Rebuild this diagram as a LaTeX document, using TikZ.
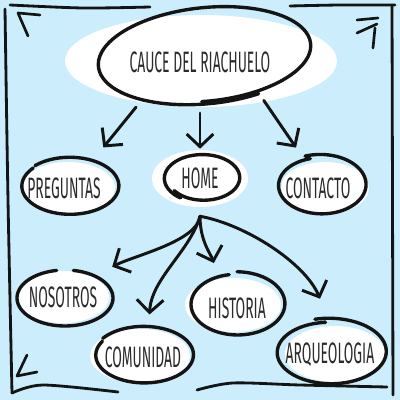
\documentclass[tikz,border=0pt]{standalone}
\usepackage{fontspec}
\setmainfont{Fira Sans}[FakeStretch=0.47]
\usetikzlibrary{arrows.meta,shapes.geometric,positioning}
\definecolor{skyBlue}{HTML}{CCEEFC}
\definecolor{inkBlack}{HTML}{141414}
\definecolor{textGray}{HTML}{2B2B2B}

\tikzset{
  topic/.style={ellipse,inner sep=0pt,text=textGray,font=\fontsize{21}{21}\selectfont},
  ring/.style={draw=inkBlack,line width=2.4pt,line cap=round,line join=round},
  link/.style={draw=inkBlack,line width=2.1pt,line cap=round,-{Straight Barb[length=9pt,width=19pt]}},
  frameline/.style={draw=inkBlack,line width=2pt,line cap=round},
  cornermark/.style={draw=inkBlack,line width=1.9pt,line cap=round,line join=round}
}

\newcommand{\sketchring}[9]{%
  \begin{scope}[shift={(#1)},shift={#2},rotate=#9]
    \draw[ring] plot[domain=#5:#6,samples=90,smooth] ({#3*(#7+(#8-#7)*(\x-(#5))/(#6-(#5)))*cos(\x)},{#4*(#7+(#8-#7)*(\x-(#5))/(#6-(#5)))*sin(\x)});
  \end{scope}}

\begin{document}
\begin{tikzpicture}[x=0.025cm,y=0.025cm]
  \fill[skyBlue] (0,0) rectangle (400,400);
  \useasboundingbox (0,0) rectangle (400,400);

  \fill[white] (201,339) ellipse [x radius=136,y radius=46];
  \fill[white] (68,212) ellipse [x radius=47,y radius=26];
  \fill[white] (200,221.5) ellipse [x radius=48,y radius=28.5];
  \fill[white] (325,212) ellipse [x radius=44,y radius=26];
  \fill[white] (63,103) ellipse [x radius=46,y radius=26];
  \fill[white] (140,44) ellipse [x radius=50,y radius=27];
  \fill[white] (233,95) ellipse [x radius=48,y radius=27];
  \fill[white] (335,46) ellipse [x radius=50,y radius=28];

  \node[topic,minimum width=5.4cm,minimum height=2cm] (cauce) at (200,338) {CAUCE DEL RIACHUELO};
  \node[topic,minimum width=2.5cm,minimum height=1.4cm] (preg) at (64,212) {PREGUNTAS};
  \node[topic,minimum width=1.85cm,minimum height=1.15cm] (home) at (200,222) {HOME};
  \node[topic,minimum width=2.2cm,minimum height=1.5cm] (cont) at (318,212) {CONTACTO};
  \node[topic,minimum width=2.4cm,minimum height=1.45cm] (nos) at (63,103) {NOSOTROS};
  \node[topic,minimum width=2.45cm,minimum height=1.4cm] (comu) at (143,43) {COMUNIDAD};
  \node[topic,minimum width=2.35cm,minimum height=1.55cm] (hist) at (237,92) {HISTORIA};
  \node[topic,minimum width=2.75cm,minimum height=1.6cm] (arq) at (330,45) {ARQUEOLOGIA};

  \sketchring{cauce}{(6,7)}{108}{48}{-95}{296}{0.96}{1.02}{6}
  \sketchring{preg}{(6,2)}{48}{28}{140}{495}{1.0}{1.03}{0}
  \sketchring{home}{(3,0)}{37}{23}{215}{595}{0.95}{1.06}{0}
  \sketchring{cont}{(3,3)}{44}{29}{105}{470}{0.94}{1.06}{0}
  \sketchring{nos}{(2,-1)}{48}{28}{100}{440}{1.0}{1.0}{0}
  \sketchring{comu}{(1,2)}{49}{28}{150}{505}{0.98}{1.03}{0}
  \sketchring{hist}{(0,4)}{47}{31}{100}{450}{0.96}{1.04}{0}
  \sketchring{arq}{(0,3)}{55}{32}{95}{465}{0.93}{1.06}{0}

  \coordinate[below=0.375cm of home] (hub);

  \draw[link,shorten <=0.34cm,shorten >=0.52cm] (cauce.212) -- (preg.43);
  \draw[link,shorten <=0.27cm,shorten >=0.15cm] (cauce.270) -- (home.90);
  \draw[link,shorten <=0.15cm,shorten >=0.35cm] (cauce.331) -- (cont.116);
  \draw[link,shorten >=0.47cm] (hub) .. controls +(-3,-25) and +(40,20) .. (nos.34);
  \draw[link,shorten >=0.36cm] (hub) .. controls +(-10,-35) and +(2,50) .. (comu.78);
  \draw[link,shorten >=0.42cm] (hub) .. controls +(0,-25) and +(-8,25) .. (hist.122);
  \draw[link,shorten >=0.65cm] (hub) .. controls +(45,-8) and +(-25,60) .. (arq.90);

  \draw[frameline] plot[smooth] coordinates {(10,395) (83,392) (150,393)};
  \draw[frameline] plot[smooth] coordinates {(290,394) (340,395) (395,395)};
  \draw[frameline] plot[smooth] coordinates {(5,391) (8,200) (12,7)};
  \draw[frameline] plot[smooth] coordinates {(12,7) (43,15) (118,8)};
  \draw[frameline] plot[smooth] coordinates {(197,10) (233,17) (300,15) (387,13)};
  \draw[frameline] (392,395) -- (393,5);

  \draw[cornermark] (40,385) -- (18,387) -- (28,364);
  \draw[cornermark] (357,380) -- (378,382);
  \draw[cornermark] (357,367) -- (377,376);
  \draw[cornermark] (375,372) -- (373,352);
  \draw[cornermark] (37,28) -- (17,24) -- (27,45);
\end{tikzpicture}
\end{document}
